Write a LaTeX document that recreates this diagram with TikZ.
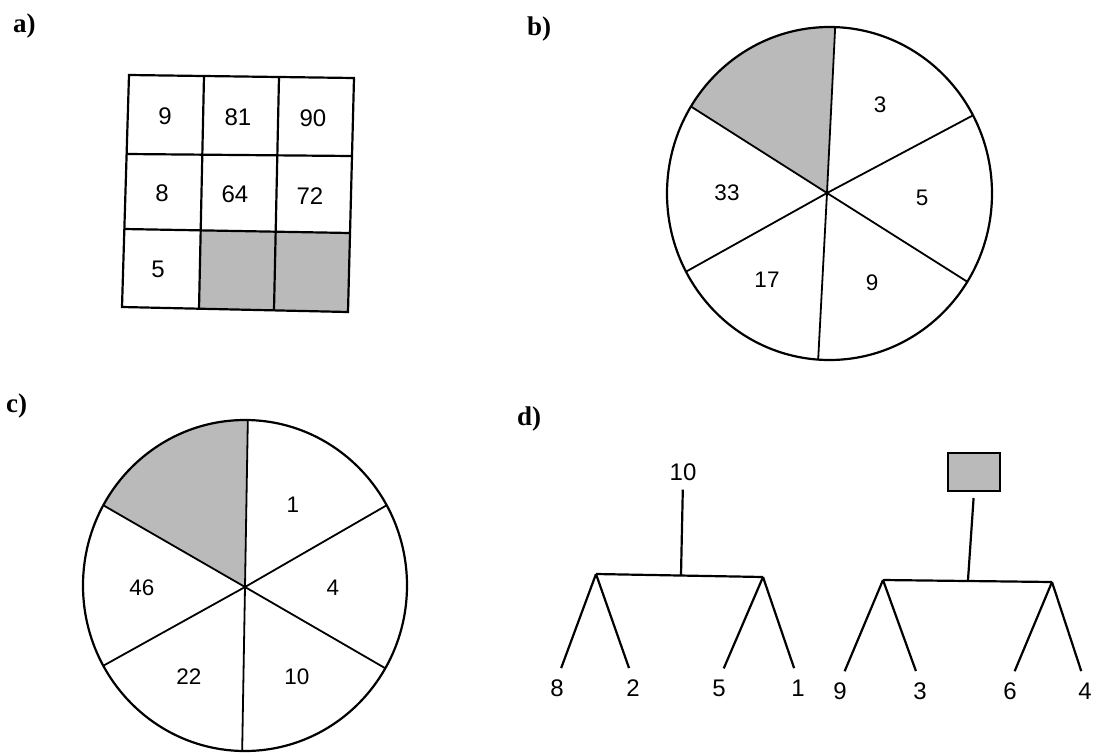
\documentclass[tikz,border=0pt]{standalone}
\usepackage{fontspec}
\setmainfont{Liberation Serif}
\newfontfamily\numfont{Liberation Sans}
\begin{document}
\begin{tikzpicture}[x=1pt,y=-1pt,
  num/.style={font=\numfont\fontsize{24}{25}\selectfont, inner sep=0pt},
  pienum/.style={font=\numfont\fontsize{22.5}{23}\selectfont, inner sep=0pt},
  lab/.style={font=\fontsize{27}{28}\selectfont\bfseries, inner sep=0pt, anchor=base west},
  outline/.style={line width=2.2pt},
  spoke/.style={line width=1.8pt},
  shade/.style={fill=black!27},
  branch/.style={line width=2.2pt},
  leg/.style={branch, shorten >=12pt}
  ]
\useasboundingbox[fill=white] (0,0) rectangle (1093,753);

% ---------------- a) ----------------
\node[lab] (la) at (13,32) {a)};
\coordinate (g00) at (129,75);  \coordinate (g01) at (204,76);  \coordinate (g02) at (279,77);  \coordinate (g03) at (354,78);
\coordinate (g10) at (127,154); \coordinate (g11) at (202,155); \coordinate (g12) at (277,155); \coordinate (g13) at (352,156);
\coordinate (g20) at (124,229); \coordinate (g21) at (201,230); \coordinate (g22) at (276,232); \coordinate (g23) at (350,233);
\coordinate (g30) at (122,307); \coordinate (g31) at (199,309); \coordinate (g32) at (274,310); \coordinate (g33) at (348,312);
\fill[shade] (g21) -- (g23) -- (g33) -- (g31) -- cycle;
\draw[outline] (g00) -- (g03) -- (g33) -- (g30) -- cycle;
\draw[outline] (g10) -- (g13);
\draw[outline] (g20) -- (g23);
\draw[outline] (g01) -- (g31);
\draw[outline] (g02) -- (g32);
\node[num] (a11) at (165,116) {9};
\node[num] (a12) at (238,117) {81};
\node[num] (a13) at (313,118) {90};
\node[num] (a21) at (162,193) {8};
\node[num] (a22) at (235,194) {64};
\node[num] (a23) at (310,196) {72};
\node[num] (a31) at (158,269) {5};

% ---------------- b) ----------------
\node[lab] (lb) at (527,35) {b)};
\coordinate (bc) at (829.5,193.5);
\coordinate (bo) at (827,193);
\path (bc) ++(-88:162.5 and 166.5)  coordinate (bT);
\path (bc) ++(-28:162.5 and 166.5)  coordinate (bUR);
\path (bc) ++(32:162.5 and 166.5)   coordinate (bLR);
\path (bc) ++(94:162.5 and 166.5)   coordinate (bB);
\path (bc) ++(152:162.5 and 166.5)  coordinate (bLL);
\path (bc) ++(211.5:162.5 and 166.5) coordinate (bUL);
\fill[shade] (bo) -- (bUL) arc[start angle=211.5, end angle=272, x radius=162.5, y radius=166.5] -- cycle;
\draw[outline] (bc) ellipse [x radius=162.5, y radius=166.5];
\foreach \p in {bT,bUR,bLR,bB,bLL,bUL} \draw[spoke] (bo) -- (\p);
\node[pienum] (b3)  at (880,105) {3};
\node[pienum] (b5)  at (922,198) {5};
\node[pienum] (b9)  at (872,283) {9};
\node[pienum] (b17) at (767,280) {17};
\node[pienum] (b33) at (727,193) {33};

% ---------------- c) ----------------
\node[lab] (lc) at (6,412) {c)};
\coordinate (cc) at (245,585.5);
\coordinate (co) at (245,587);
\path (cc) ++(-89:162 and 165.5) coordinate (cT);
\path (cc) ++(-29:162 and 165.5) coordinate (cUR);
\path (cc) ++(30:162 and 165.5)  coordinate (cLR);
\path (cc) ++(91:162 and 165.5)  coordinate (cB);
\path (cc) ++(151:162 and 165.5) coordinate (cLL);
\path (cc) ++(209:162 and 165.5) coordinate (cUL);
\fill[shade] (co) -- (cUL) arc[start angle=209, end angle=271, x radius=162, y radius=165.5] -- cycle;
\draw[outline] (cc) ellipse [x radius=162, y radius=165.5];
\foreach \p in {cT,cUR,cLR,cB,cLL,cUL} \draw[spoke] (co) -- (\p);
\node[pienum] (c1)  at (293,505) {1};
\node[pienum] (c4)  at (333,588) {4};
\node[pienum] (c10) at (297,677) {10};
\node[pienum] (c22) at (189,677) {22};
\node[pienum] (c46) at (142,588) {46};

% ---------------- d) ----------------
\node[lab] (ld) at (517,425) {d)};
% left tree
\node[num] (t10) at (683,472) {10};
\coordinate (m1) at (681,575);
\coordinate (l1) at (596,574);
\coordinate (r1) at (763,577);
\node[num] (n8) at (557,688) {8};
\node[num] (n2) at (633,688) {2};
\node[num] (n5) at (719,688) {5};
\node[num] (n1) at (798,688) {1};
\draw[branch, shorten <=9pt] (t10.south) -- (m1);
\draw[branch] (l1) -- (r1);
\draw[leg] (l1) -- (n8.north);
\draw[leg] (l1) -- (n2.north);
\draw[leg] (r1) -- (n5.north);
\draw[leg] (r1) -- (n1.north);
% right tree
\node[draw, line width=2pt, shade, minimum width=52pt, minimum height=38pt, inner sep=0pt] (sq) at (974,472) {};
\coordinate (m2) at (968,580);
\coordinate (l2) at (883,580);
\coordinate (r2) at (1052,582);
\node[num] (n9) at (840,691) {9};
\node[num] (n3) at (920,691) {3};
\node[num] (n6) at (1010,691) {6};
\node[num] (n4) at (1085,691) {4};
\draw[branch, shorten <=6pt] (sq.south) -- (m2);
\draw[branch] (l2) -- (r2);
\draw[leg] (l2) -- (n9.north);
\draw[leg] (l2) -- (n3.north);
\draw[leg] (r2) -- (n6.north);
\draw[leg] (r2) -- (n4.north);
\end{tikzpicture}
\end{document}
